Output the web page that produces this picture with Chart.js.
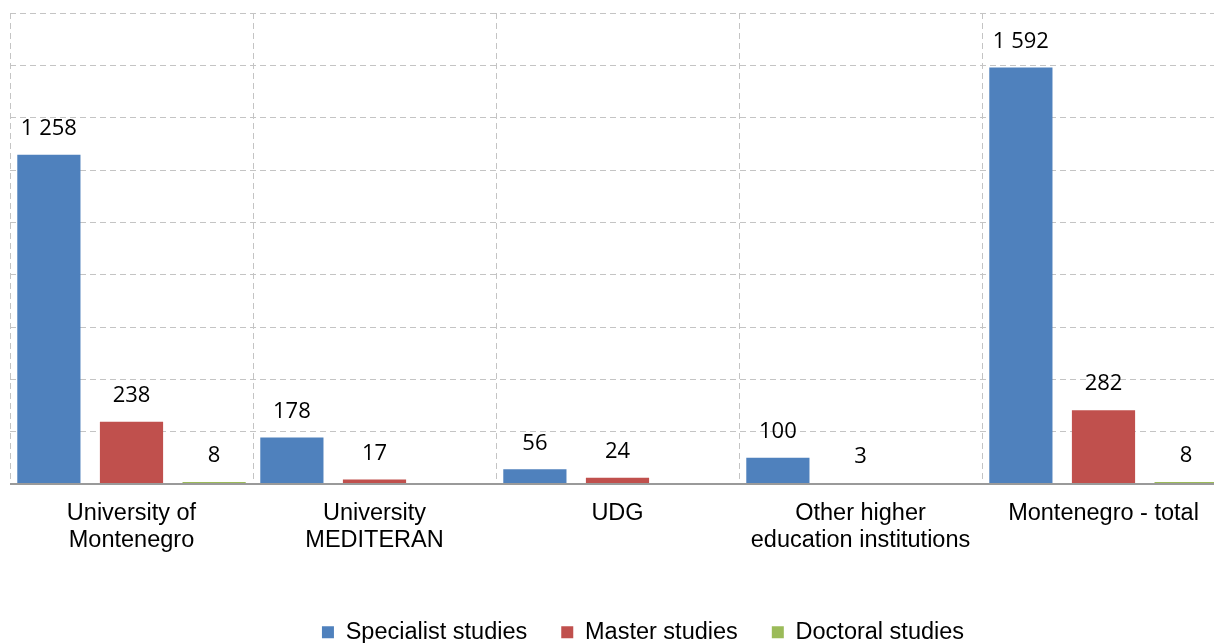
<!DOCTYPE html>
<html>
<head>
<meta charset="utf-8">
<script src="https://cdn.jsdelivr.net/npm/chart.js@4/dist/chart.umd.min.js"></script>
<style>
  html, body { margin: 0; padding: 0; background: #fff; overflow: hidden; }
  #wrap { position: relative; width: 1286px; height: 654px; }
</style>
</head>
<body>
<div id="wrap"><canvas id="c" width="1286" height="654"></canvas></div>
<script>
const categories = [
  ['University of', 'Montenegro'],
  ['University', 'MEDITERAN'],
  'UDG',
  ['Other higher', 'education institutions'],
  'Montenegro - total'
];
const seriesNames = ['Specialist studies', 'Master studies', 'Doctoral studies'];
const specialist = [1258, 178, 56, 100, 1592];
const master = [238, 17, 24, 3, 282];
const doctoral = [8, null, null, null, 8];
const colors = ['#4F81BD', '#C0504D', '#9BBB59'];
const yMax = 1800;
const yStep = 200;

function fmt(v) {
  return String(v).replace(/\B(?=(\d{3})+(?!\d))/g, ' ');
}

const valueLabels = {
  id: 'valueLabels',
  afterDatasetsDraw(chart) {
    const ctx = chart.ctx;
    ctx.save();
    ctx.font = '22px "Open Sans"';
    ctx.fillStyle = '#000';
    ctx.textAlign = 'center';
    ctx.textBaseline = 'middle';
    chart.data.datasets.forEach((ds, di) => {
      const meta = chart.getDatasetMeta(di);
      meta.data.forEach((bar, i) => {
        const v = ds.data[i];
        if (v === null || v === undefined) return;
        ctx.fillText(fmt(v), bar.x, bar.y - 26);
      });
    });
    ctx.restore();
  }
};

// solid baseline drawn along the value-axis zero line
const baseline = {
  id: 'baseline',
  afterDatasetsDraw(chart) {
    const ctx = chart.ctx;
    const y0 = chart.scales.y.getPixelForValue(0);
    const area = chart.chartArea;
    ctx.save();
    ctx.strokeStyle = '#9a9a9a';
    ctx.lineWidth = 2;
    ctx.setLineDash([]);
    ctx.beginPath();
    ctx.moveTo(area.left, y0);
    ctx.lineTo(area.right, y0);
    ctx.stroke();
    ctx.restore();
  }
};

const gridColor = '#c4c4c4';

new Chart(document.getElementById('c'), {
  type: 'bar',
  data: {
    labels: categories,
    datasets: [
      { label: seriesNames[0], data: specialist, backgroundColor: colors[0] },
      { label: seriesNames[1], data: master, backgroundColor: colors[1] },
      { label: seriesNames[2], data: doctoral, backgroundColor: colors[2] }
    ]
  },
  options: {
    responsive: false,
    animation: false,
    devicePixelRatio: 1,
    categoryPercentage: 1.02,
    barPercentage: 0.765,
    layout: { padding: { top: 13, left: 0, right: 0, bottom: 0 } },
    plugins: {
      tooltip: { enabled: false },
      legend: {
        position: 'bottom',
        align: 'center',
        labels: {
          font: { family: '"Liberation Sans", Arial, sans-serif', size: 23.5 },
          color: '#000',
          boxWidth: 12,
          boxHeight: 12,
          padding: 34
        }
      }
    },
    scales: {
      x: {
        grid: {
          display: true,
          offset: true,
          color: gridColor,
          lineWidth: 1,
          drawTicks: false
        },
        border: { display: false, dash: [6, 4] },
        ticks: {
          padding: 16,
          color: '#000',
          maxRotation: 0,
          autoSkip: false,
          font: { family: '"Liberation Sans", Arial, sans-serif', size: 23.5, lineHeight: 1.15 }
        },
        afterFit(s) { s.height = 102.5; }
      },
      y: {
        min: 0,
        max: yMax,
        ticks: { display: false, stepSize: yStep },
        grid: { color: gridColor, lineWidth: 1, drawTicks: false },
        border: { display: false, dash: [6, 4] },
        afterFit(s) { s.width = 10; }
      },
      y2: {
        position: 'right',
        min: 0,
        max: yMax,
        ticks: { display: false },
        grid: { display: false, drawTicks: false },
        border: { display: false },
        afterFit(s) { s.width = 61; }
      }
    }
  },
  plugins: [valueLabels, baseline]
});
</script>
</body>
</html>
